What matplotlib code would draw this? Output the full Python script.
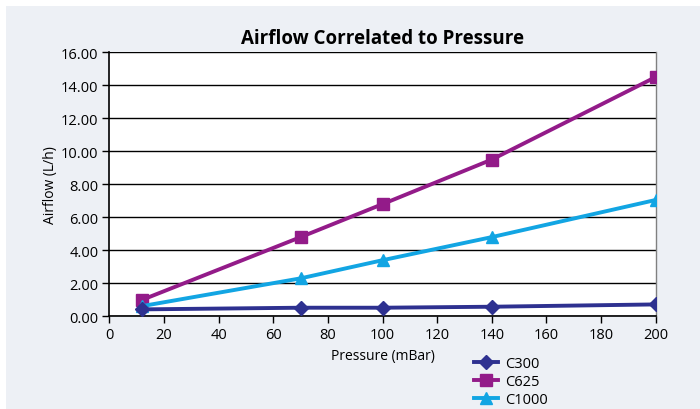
import matplotlib as mpl
mpl.use('Agg')
import matplotlib.pyplot as plt
from matplotlib.patches import Rectangle

plt.rcParams['font.family'] = ['Open Sans', 'DejaVu Sans']

pressure = [12, 70, 100, 140, 200]
c300 = [0.42, 0.52, 0.52, 0.58, 0.72]
c625 = [1.0, 4.8, 6.8, 9.5, 14.5]
c1000 = [0.62, 2.3, 3.4, 4.8, 7.05]

x_ticks = [0, 20, 40, 60, 80, 100, 120, 140, 160, 180, 200]
y_ticks = [0, 2, 4, 6, 8, 10, 12, 14, 16]

bg = '#edf0f5'

fig = plt.figure(figsize=(7, 4.1), dpi=100)
fig.patch.set_facecolor('white')
# light panel behind the chart, leaving a thin white strip top/left
fig.patches.append(Rectangle((6 / 700, 0), 1, 1 - 7 / 410, transform=fig.transFigure,
                             facecolor=bg, edgecolor='none', zorder=-10))

ax = fig.add_axes([0.1564, 0.2261, 0.7803, 0.6439])
ax.set_facecolor('white')

ax.plot(pressure, c300, color='#2e3190', lw=2.8, marker='D', ms=7.5, label='C300', zorder=5)
ax.plot(pressure, c625, color='#931b89', lw=2.8, marker='s', ms=8, label='C625', zorder=4)
ax.plot(pressure, c1000, color='#12a5e3', lw=2.8, marker='^', ms=9, label='C1000', zorder=4.5)

ax.set_xlim(0, 200)
ax.set_ylim(0, 16)
ax.set_xticks(x_ticks)
ax.set_yticks(y_ticks)
ax.set_yticklabels([f"{v:.2f}" for v in y_ticks])
ax.yaxis.grid(True, color='black', lw=1)
ax.set_axisbelow(True)

ax.spines['right'].set_color('#808080')
ax.spines['right'].set_linewidth(1)
ax.spines['top'].set_visible(False)
for s in ['left', 'bottom']:
    ax.spines[s].set_color('black')
    ax.spines[s].set_linewidth(1.2)

ax.tick_params(axis='both', direction='out', length=5, width=1, labelsize=10.5,
               colors='black', pad=3)

ax.set_title('Airflow Correlated to Pressure', fontsize=13.5, fontweight='bold', pad=7)
ax.set_xlabel('Pressure (mBar)', fontsize=10, labelpad=4)
ax.set_ylabel('Airflow (L/h)', fontsize=10, labelpad=2)

ax.legend(loc='upper left', bbox_to_anchor=(0.657, -0.13), frameon=False,
          fontsize=10.5, handlelength=1.6, handletextpad=0.5, labelspacing=0.2,
          borderaxespad=0)

fig.savefig('out.png', dpi=100, facecolor=fig.get_facecolor())
